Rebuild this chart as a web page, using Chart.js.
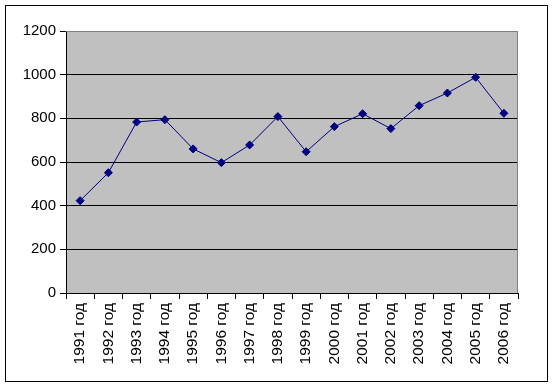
<!DOCTYPE html>
<html>
<head>
<meta charset="utf-8">
<script src="https://cdn.jsdelivr.net/npm/chart.js@4"></script>
<style>
  html, body { margin: 0; padding: 0; background: #fff; }
  #wrap { position: relative; width: 553px; height: 387px; }
  #frame { position: absolute; left: 5px; top: 5px; width: 541px; height: 375px; border: 1px solid #000; pointer-events: none; }
  canvas { position: absolute; left: 0; top: 0; }
</style>
</head>
<body>
<div id="wrap">
  <canvas id="chart" width="553" height="387"></canvas>
  <div id="frame"></div>
</div>
<script>
const years = ["1991 год", "1992 год", "1993 год", "1994 год", "1995 год", "1996 год", "1997 год", "1998 год",
  "1999 год", "2000 год", "2001 год", "2002 год", "2003 год", "2004 год", "2005 год", "2006 год"];
const values = [423, 551, 783, 794, 660, 597, 678, 808, 647, 762, 821, 753, 858, 916, 988, 823];
const yTicks = [0, 200, 400, 600, 800, 1000, 1200];

// gray plot area with gray top/right border, like Excel
const plotBg = {
  id: 'plotBg',
  beforeDraw(chart) {
    const { ctx, chartArea: a } = chart;
    ctx.save();
    ctx.fillStyle = '#C0C0C0';
    ctx.fillRect(a.left, a.top, a.right - a.left, a.bottom - a.top);
    ctx.restore();
  },
  afterDatasetsDraw(chart) {
    const { ctx, chartArea: a } = chart;
    ctx.save();
    ctx.strokeStyle = '#808080';
    ctx.lineWidth = 1;
    ctx.beginPath();
    ctx.moveTo(a.left, a.top + 0.5);
    ctx.lineTo(a.right - 0.5, a.top + 0.5);
    ctx.lineTo(a.right - 0.5, a.bottom);
    ctx.stroke();
    ctx.restore();
  }
};

const ctx = document.getElementById('chart').getContext('2d');
new Chart(ctx, {
  type: 'line',
  data: {
    labels: years,
    datasets: [{
      data: values,
      borderColor: '#000080',
      backgroundColor: '#000080',
      borderWidth: 1,
      pointStyle: 'rectRot',
      pointRadius: 4,
      pointBorderWidth: 1,
      tension: 0
    }]
  },
  options: {
    responsive: false,
    animation: false,
    layout: { padding: { top: 31, right: 35, left: 0, bottom: 0 } },
    plugins: { legend: { display: false }, tooltip: { enabled: false } },
    scales: {
      x: {
        offset: true,
        grid: { offset: true, drawOnChartArea: false, color: '#000', tickLength: 6 },
        border: { color: '#000' },
        ticks: {
          color: '#000', maxRotation: 90, minRotation: 90, autoSkip: false, padding: 4,
          font: { family: 'Liberation Sans, Arial', size: 15.5 }
        },
        afterFit(scale) { scale.height = 94; }
      },
      y: {
        min: 0, max: 1200,
        afterBuildTicks(scale) { scale.ticks = yTicks.map(v => ({ value: v })); },
        grid: {
          color: c => (c.tick && c.tick.value === 1200) ? '#808080' : '#000',
          tickColor: '#000',
          tickLength: 6
        },
        border: { color: '#000' },
        ticks: {
          color: '#000', padding: 4,
          callback: v => String(v),
          font: { family: 'Liberation Sans, Arial', size: 15 }
        },
        afterFit(scale) { scale.width = 66; }
      }
    }
  },
  plugins: [plotBg]
});
</script>
</body>
</html>
